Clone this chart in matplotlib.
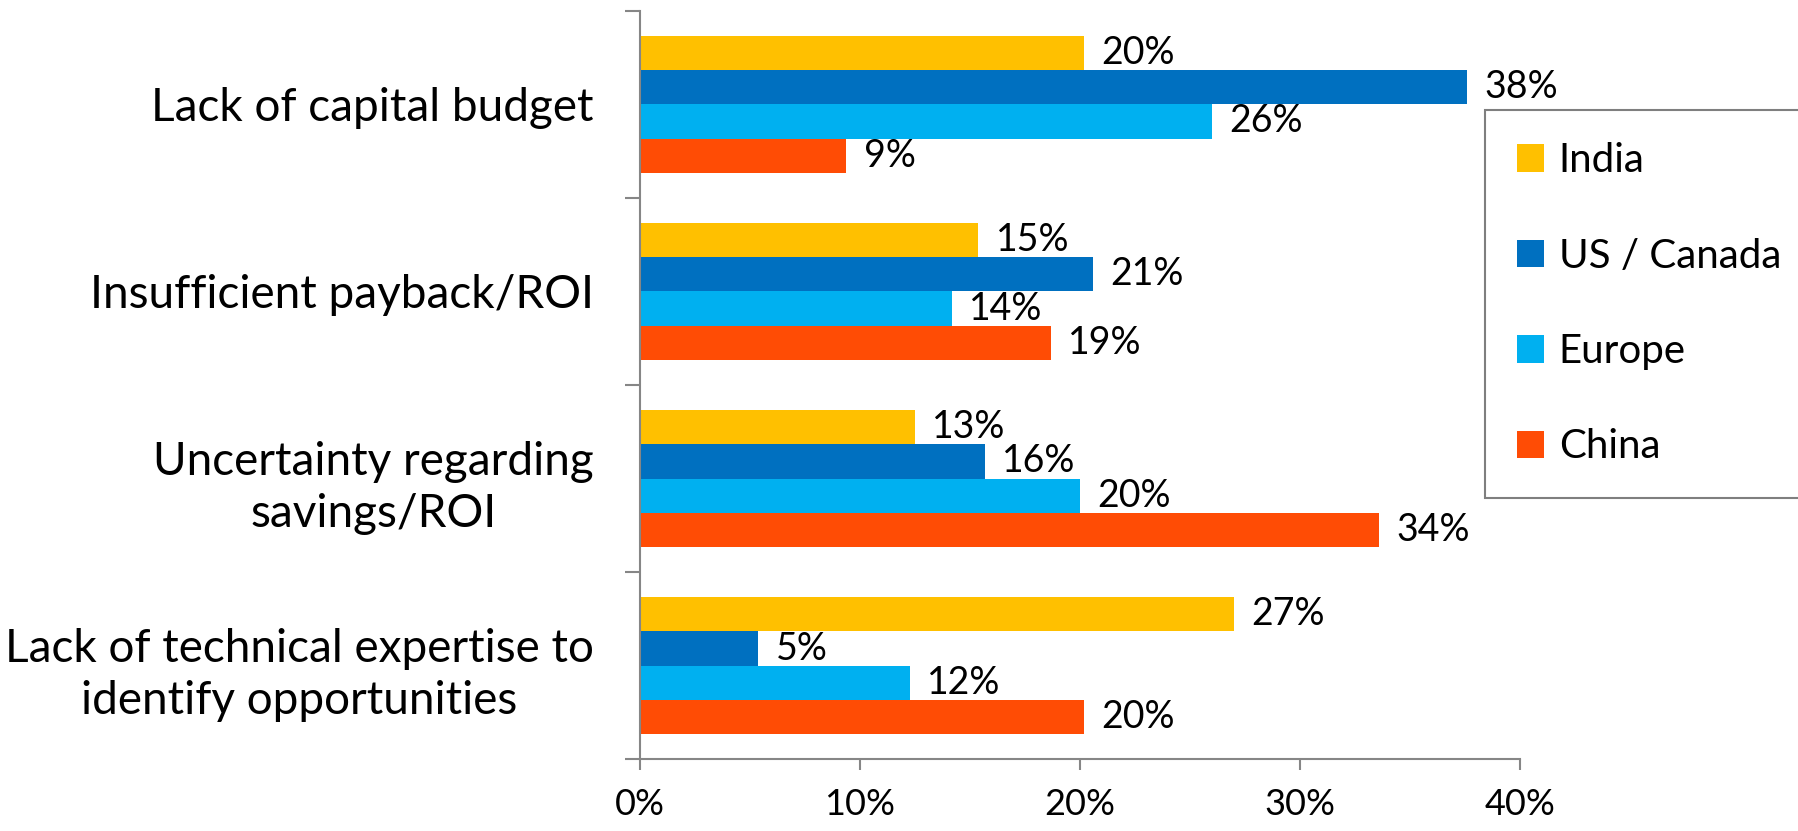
"""Barriers to investment, by region (horizontal grouped bars)."""

import matplotlib
matplotlib.use("Agg")
import matplotlib.pyplot as plt
import numpy as np

categories = [
    "Lack of capital budget",
    "Insufficient payback/ROI",
    "Uncertainty regarding\nsavings/ROI",
    "Lack of technical expertise to\nidentify opportunities",
]
regions = ["India", "US / Canada", "Europe", "China"]

# bar lengths (fraction) and the printed labels
india = [0.202, 0.154, 0.125, 0.270]
us_canada = [0.376, 0.206, 0.157, 0.054]
europe = [0.260, 0.142, 0.200, 0.123]
china = [0.094, 0.187, 0.336, 0.202]

india_lbl = ["20%", "15%", "13%", "27%"]
us_canada_lbl = ["38%", "21%", "16%", "5%"]
europe_lbl = ["26%", "14%", "20%", "12%"]
china_lbl = ["9%", "19%", "34%", "20%"]

xticks = [0, 0.1, 0.2, 0.3, 0.4]
xtick_labels = ["0%", "10%", "20%", "30%", "40%"]

colors = ["#FFC000", "#0070C0", "#00B0F0", "#FF4C05"]

plt.rcParams["font.family"] = ["Lato", "DejaVu Sans"]

fig = plt.figure(figsize=(17.98, 8.31), dpi=100)
ax = fig.add_axes([0.3557, 0.0866, 0.8452 - 0.3557, 0.9868 - 0.0866])

series = [india, us_canada, europe, china]
labels = [india_lbl, us_canada_lbl, europe_lbl, china_lbl]
y = np.arange(len(categories))
h = 0.182
offsets = (np.arange(4) - 1.5) * h

for vals, lbls, off, col, name in zip(series, labels, offsets, colors, regions):
    bars = ax.barh(y + off, vals, height=h, color=col, label=name)
    for b, v, t in zip(bars, vals, lbls):
        ax.text(v + 0.0078, b.get_y() + h / 2, t, va="center", ha="left",
                fontsize=27)

ax.set_xlim(0, 0.4)
ax.set_ylim(3.5, -0.5)
ax.set_xticks(xticks)
ax.set_xticklabels(xtick_labels, fontsize=26)
ax.set_yticks(y)
ax.set_yticklabels(categories, fontsize=33, multialignment="center",
                   linespacing=1.3)
ax.set_yticks(np.arange(-0.5, 4, 1), minor=True)

grey = "#868686"
for s in ["top", "right"]:
    ax.spines[s].set_visible(False)
for s in ["left", "bottom"]:
    ax.spines[s].set_color(grey)
    ax.spines[s].set_linewidth(1.5)
ax.tick_params(axis="y", which="major", length=0, pad=33)
ax.tick_params(axis="y", which="minor", length=11, width=1.5, color=grey)
ax.tick_params(axis="x", length=8, width=1.5, color=grey, pad=13)

leg = ax.legend(loc="upper left", bbox_to_anchor=(1485 / 1798, 1 - 110 / 831),
                bbox_transform=fig.transFigure, borderaxespad=0, fontsize=29,
                handlelength=0.67, handleheight=0.67, handletextpad=0.36,
                labelspacing=1.45, borderpad=0.8, fancybox=False, framealpha=1)
leg.get_frame().set_edgecolor("#7F7F7F")
leg.get_frame().set_linewidth(1.5)

fig.savefig("out.png", dpi=100)
